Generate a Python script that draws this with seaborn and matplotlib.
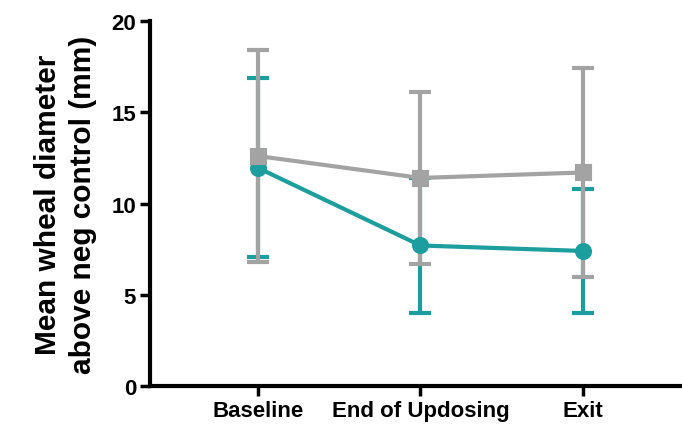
import numpy as np
import pandas as pd
import matplotlib
matplotlib.use("Agg")
import matplotlib.pyplot as plt
import seaborn as sns

timepoints = ["Baseline", "End of Updosing", "Exit"]
gray_mean = [12.6, 11.4, 11.7]
gray_sd = [5.8, 4.7, 5.7]
teal_mean = [11.95, 7.7, 7.4]
teal_sd = [4.9, 3.7, 3.4]

teal = "#1c9e9e"
gray = "#a3a3a3"

df = pd.DataFrame({
    "time": timepoints * 2,
    "mean": teal_mean + gray_mean,
    "group": ["teal"] * 3 + ["gray"] * 3,
})

sns.set_style("ticks")
plt.rcParams["font.family"] = ["Liberation Sans", "DejaVu Sans"]
plt.rcParams["text.color"] = "black"
plt.rcParams["axes.labelcolor"] = "black"
plt.rcParams["xtick.color"] = "black"
plt.rcParams["ytick.color"] = "black"

fig = plt.figure(figsize=(6.82, 4.31), dpi=100)
ax = fig.add_axes([0.22, 0.102, 0.78, 0.847])

x = np.arange(len(timepoints))
# error bars: teal under gray lines, caps on top
ax.errorbar(x, teal_mean, yerr=teal_sd, fmt="none", ecolor=teal,
            elinewidth=3, capsize=8, capthick=3, zorder=2)
ax.errorbar(x, gray_mean, yerr=gray_sd, fmt="none", ecolor=gray,
            elinewidth=3, capsize=8, capthick=3, zorder=3)

sns.pointplot(data=df, x="time", y="mean", hue="group", hue_order=["teal", "gray"],
              palette={"teal": teal, "gray": gray}, markers=["o", "s"],
              linestyles="-", errorbar=None, markersize=10, linewidth=3,
              legend=False, ax=ax, zorder=4)

ax.set_xlim(-0.665, 2.61)
ax.set_ylim(0, 20)
ax.set_yticks([0, 5, 10, 15, 20])
ax.set_xticks(x)
ax.set_xticklabels(timepoints)
ax.set_xlabel("")
ax.set_ylabel("Mean wheal diameter\nabove neg control (mm)", fontsize=21.5,
              fontweight="bold", linespacing=1.3)
ax.yaxis.set_label_coords(-0.10, 0.50)

for s in ["top", "right"]:
    ax.spines[s].set_visible(False)
for s in ["left", "bottom"]:
    ax.spines[s].set_linewidth(3)
    ax.spines[s].set_color("black")
ax.tick_params(axis="both", width=2.5, length=7, color="black",
               labelsize=16, pad=3)
for lab in ax.get_xticklabels() + ax.get_yticklabels():
    lab.set_fontweight("bold")

fig.savefig("out.png", dpi=100)
